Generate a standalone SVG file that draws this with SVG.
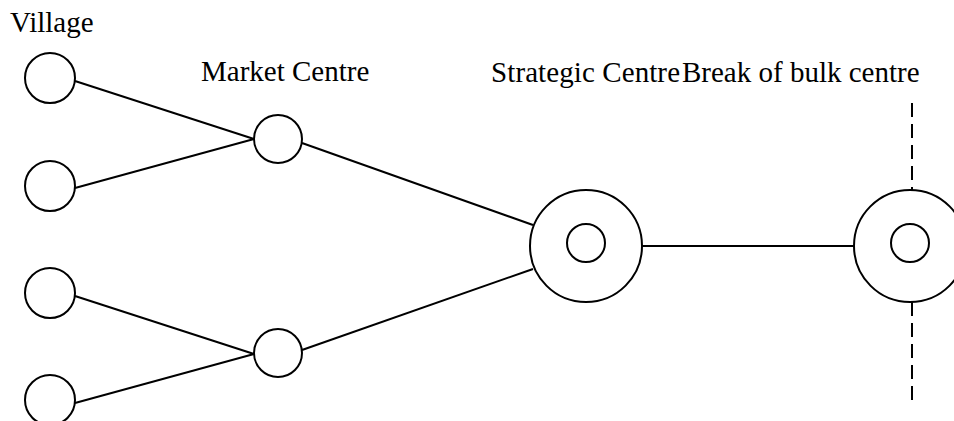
<svg xmlns="http://www.w3.org/2000/svg" width="954" height="421" viewBox="0 0 954 421">
<style>
.n{fill:#fff;stroke:#000;stroke-width:2}
.c line{stroke:#000;stroke-width:2}
.d{stroke-dasharray:14 7}
text{font-family:"Liberation Serif","Times New Roman",serif;font-size:29px;fill:#000}
</style>
<rect width="954" height="421" fill="#fff"/>
<g id="connectors" class="c">
<line x1="75" y1="81" x2="254" y2="139"/>
<line x1="75" y1="188" x2="254" y2="139"/>
<line x1="75" y1="296" x2="254" y2="354"/>
<line x1="75" y1="403" x2="254" y2="354"/>
<line x1="302" y1="143" x2="533" y2="225"/>
<line x1="302" y1="350" x2="533" y2="269"/>
<line x1="642" y1="246" x2="854" y2="246"/>
<line class="d" x1="912" y1="103" x2="912" y2="190"/>
<line class="d" x1="912" y1="302" x2="912" y2="404"/>
</g>
<g id="village1"><circle class="n" cx="50" cy="78" r="25"/></g>
<g id="village2"><circle class="n" cx="50" cy="186" r="25"/></g>
<g id="village3"><circle class="n" cx="50" cy="293" r="25"/></g>
<g id="village4"><circle class="n" cx="50" cy="400" r="25"/></g>
<g id="market1"><circle class="n" cx="278" cy="139" r="24"/></g>
<g id="market2"><circle class="n" cx="278" cy="353" r="24"/></g>
<g id="strategic"><circle class="n" cx="586" cy="246" r="56"/><circle class="n" cx="586" cy="243" r="19"/></g>
<g id="breakofbulk"><circle class="n" cx="910" cy="246" r="56"/><circle class="n" cx="910" cy="243" r="19"/></g>
<g id="labels">
<text x="10" y="32">Village</text>
<text x="201" y="81">Market Centre</text>
<text x="491" y="82" textLength="189" lengthAdjust="spacing">Strategic Centre</text>
<text x="682" y="82">Break of bulk centre</text>
</g>
</svg>
